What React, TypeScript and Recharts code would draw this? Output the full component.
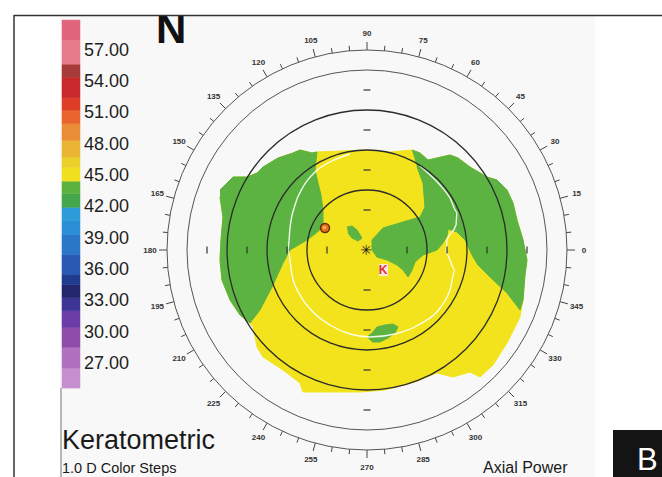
import React from 'react';
import { ScatterChart, Scatter, XAxis, YAxis, ReferenceArea } from 'recharts';

const W = 662;
const H = 477;
// map units: 1 unit = 20px, map centre sits at (367, 250)
const X_DOMAIN: [number, number] = [-18.35, 14.75];
const Y_DOMAIN: [number, number] = [-11.35, 12.5];
const PX = W / (X_DOMAIN[1] - X_DOMAIN[0]);
// legend scale in dioptres
const LEGEND_DOMAIN: [number, number] = [16.09, 61.74];

const GREEN = '#5db342';
const YELLOW = '#f2e31d';
const FONT = '"Liberation Sans", Arial, sans-serif';

const legendTicks = [57, 54, 51, 48, 45, 42, 39, 36, 33, 30, 27];
const legendBands: [number, number, string][] = [
  [24.6, 26.5, '#c58fcf'], [26.5, 28.5, '#b071c0'], [28.5, 30.4, '#8f4cab'], [30.4, 32, '#6c3da6'],
  [32, 33.25, '#3d3496'], [33.25, 34.5, '#23266c'], [34.5, 35.5, '#1f3c8f'], [35.5, 37.4, '#285ab3'],
  [37.4, 39.3, '#2b77c7'], [39.3, 40.6, '#2b8fd6'], [40.6, 41.9, '#2d9cd9'], [41.9, 43.2, '#45a64b'],
  [43.2, 44.4, '#5bb23f'], [44.4, 45.7, '#f1e01f'], [45.7, 46.7, '#ecd02a'], [46.7, 48.3, '#e9b431'],
  [48.3, 49.9, '#e98e36'], [49.9, 51.2, '#e8662e'], [51.2, 52.4, '#e03d29'], [52.4, 54.35, '#c8292b'],
  [54.35, 55.6, '#a83a3b'], [55.6, 57.9, '#e67c89'], [57.9, 59.82, '#e1657d'],
];
const LEG_X1 = -15.25;
const LEG_X2 = -14.35;
const LEG_LABEL_X = -14.15;

const ringRadii = [3, 5, 7, 9, 10];
const markRadii = [2, 4, 6, 8];
const FRAME_R = 10;
const angleLabels = [0, 15, 30, 45, 60, 75, 90, 105, 120, 135, 150, 165, 180, 195, 210, 225, 240, 255, 270, 285, 300, 315, 330, 345];
const angleTicks = Array.from({ length: 72 }, (_, i) => i * 5);

// whole measured footprint (drawn yellow)
const footprint = [
  [-7.35, 3.0], [-6.7, 3.65], [-6.0, 3.65], [-5.5, 3.85], [-5.2, 4.15], [-4.45, 4.6], [-3.7, 4.85], [-3.35, 5.0],
  [-2.75, 4.85], [-2.5, 4.9], [-1.35, 4.95], [0.15, 5.0], [1.15, 4.9], [2.25, 5.0], [2.65, 4.85], [3.05, 4.5],
  [4.15, 4.75], [4.55, 4.6], [5.15, 4.15], [6.0, 3.65], [6.5, 3.5], [7.0, 3.0], [7.3, 2.35], [7.5, 1.5],
  [7.8, 0.5], [8.0, -0.5], [7.9, -1.25], [7.8, -2.5], [7.65, -3.35], [7.0, -4.65], [6.3, -5.75], [5.65, -6.35],
  [5.15, -6.1], [4.3, -6.35], [3.5, -6.15], [3.0, -6.35], [2.4, -6.6], [1.65, -6.8], [0.9, -7.0], [-0.35, -7.1],
  [-1.85, -7.1], [-3.2, -7.1], [-3.35, -6.65], [-4.2, -6.0], [-5.2, -5.35], [-5.5, -4.85], [-5.7, -3.85],
  [-5.85, -3.65], [-6.35, -3.25], [-6.85, -2.5], [-7.25, -1.5], [-7.35, -0.5], [-7.3, 0.5], [-7.2, 1.65], [-7.35, 2.65],
];
const greenLeft = [
  [-7.35, 3.0], [-6.7, 3.65], [-6.0, 3.65], [-5.5, 3.85], [-5.2, 4.15], [-4.45, 4.6], [-3.7, 4.85], [-3.35, 5.0],
  [-2.75, 4.85], [-2.5, 4.9], [-2.6, 4.0], [-2.45, 3.35], [-2.3, 2.75], [-2.2, 2.0], [-2.2, 1.15], [-2.6, 0.8],
  [-3.0, 0.5], [-3.85, 0], [-4.2, -0.65], [-4.7, -1.75], [-5.35, -3.0], [-5.85, -3.65], [-6.35, -3.25],
  [-6.85, -2.5], [-7.25, -1.5], [-7.35, -0.5], [-7.3, 0.5], [-7.2, 1.65], [-7.35, 2.65],
];
const greenRight = [
  [2.25, 5.0], [2.65, 4.85], [3.05, 4.5], [4.15, 4.75], [4.55, 4.6], [5.15, 4.15], [6.0, 3.65], [6.5, 3.5],
  [7.0, 3.0], [7.3, 2.35], [7.5, 1.5], [7.8, 0.5], [8.0, -0.5], [7.9, -1.25], [7.8, -2.5], [7.65, -3.0],
  [7.0, -2.15], [6.15, -1.35], [5.55, -0.75], [5.25, -0.25], [4.9, 0.5], [4.5, 0.9], [4.05, 1.05], [4.0, 0.7],
  [3.8, 0.35], [3.5, 0], [2.8, -0.25], [2.4, -0.6], [2.25, -1.0], [2.05, -1.35], [1.8, -1.0], [1.5, -0.75],
  [1.0, -0.5], [0.5, -0.35], [0.25, 0], [0.25, 0.5], [0.8, 1.1], [1.8, 1.4], [2.65, 1.65], [2.9, 2.15],
  [2.8, 3.35], [2.5, 4.15],
];
const greenIsletTop = [
  [-1.0, 1.15], [-0.75, 1.2], [-0.5, 1.0], [-0.25, 0.6], [-0.45, 0.45], [-0.75, 0.6], [-0.95, 0.85],
];
const greenIsletBottom = [
  [0, -4.35], [0.25, -4.15], [0.5, -3.85], [0.9, -3.75], [1.3, -3.7], [1.55, -3.85], [1.4, -4.15],
  [1.05, -4.4], [0.65, -4.6], [0.25, -4.6],
];
const whiteContour = [
  [-0.85, 4.8], [-1.85, 4.4], [-2.6, 3.9], [-3.2, 3.15], [-3.6, 2.25], [-3.85, 1.1], [-3.95, 0], [-3.75, -1.25],
  [-3.35, -2.25], [-2.7, -3.1], [-1.85, -3.75], [-0.85, -4.2], [0.15, -4.35], [1.4, -4.2], [2.65, -3.7],
  [3.65, -2.9], [4.15, -2.0], [4.4, -1.0], [3.95, -0.15], [4.0, 0.5], [4.45, 1.25], [4.5, 1.9], [4.15, 2.6],
  [3.65, 3.25], [3.15, 3.75], [2.65, 4.2],
];
const pupilCentre = [{ x: -2.1, y: 1.1 }];
const kMark = [{ x: 0.8, y: -1.0 }];
const vertexMark = [{ x: -0.05, y: 0 }];

const pts = (arr: number[][]) => arr.map(([x, y]) => ({ x, y }));
const rad = (a: number) => (a * Math.PI) / 180;

const frameData = angleTicks.map((a) => ({ x: FRAME_R * Math.cos(rad(a)), y: FRAME_R * Math.sin(rad(a)), angle: a }));
const markData = markRadii.flatMap((r) => [
  { x: 0, y: r, dir: 'h' }, { x: 0, y: -r, dir: 'h' }, { x: r, y: 0, dir: 'v' }, { x: -r, y: 0, dir: 'v' },
]);
const legendLabelData = legendTicks.map((v) => ({ x: LEG_LABEL_X, y: v }));

const Nothing = () => <g />;

const Rings = (p: any) => (
  <g>
    {ringRadii.map((r) => (
      <circle key={r} cx={p.cx} cy={p.cy} r={r * PX} fill="none"
        stroke={r <= 7 ? '#2b2b2b' : '#555'} strokeWidth={r <= 7 ? 1.3 : 1} />
    ))}
  </g>
);

const FrameTick = (p: any) => {
  const a = p.payload.angle;
  const major = angleLabels.includes(a);
  const dx = Math.cos(rad(a));
  const dy = -Math.sin(rad(a));
  const len = major ? 8 : 5;
  return (
    <g>
      <line x1={p.cx} y1={p.cy} x2={p.cx + dx * len} y2={p.cy + dy * len} stroke="#444" strokeWidth={1} />
      {major && (
        <text x={p.cx + dx * 17} y={p.cy + dy * 17} textAnchor="middle" dominantBaseline="central"
          fontSize={8} fontWeight="bold" fontFamily={FONT} fill="#333">{a}</text>
      )}
    </g>
  );
};

const AxisMark = (p: any) =>
  p.payload.dir === 'h'
    ? <line x1={p.cx - 3.5} y1={p.cy} x2={p.cx + 3.5} y2={p.cy} stroke="#333" strokeWidth={1.2} />
    : <line x1={p.cx} y1={p.cy - 3.5} x2={p.cx} y2={p.cy + 3.5} stroke="#333" strokeWidth={1.2} />;

const LegendLabel = (p: any) => (
  <text x={p.cx} y={p.cy} dominantBaseline="central" fontSize={18} fontFamily={FONT} fill="#1e1e1e">
    {p.payload.y.toFixed(2)}
  </text>
);

const PupilDot = (p: any) => (
  <g>
    <circle cx={p.cx} cy={p.cy} r={4.5} fill="#e8741c" stroke="#6b2a10" strokeWidth={1.5} />
    <circle cx={p.cx - 0.5} cy={p.cy - 0.5} r={1.6} fill="#f6c060" />
  </g>
);

const KLabel = (p: any) => (
  <g>
    <rect x={p.cx - 4} y={p.cy - 6} width={9} height={12} fill="#fbe8e0" />
    <text x={p.cx} y={p.cy} textAnchor="middle" dominantBaseline="central" fontSize={12}
      fontWeight="bold" fontFamily={FONT} fill="#e0303a">K</text>
  </g>
);

const Vertex = (p: any) => (
  <text x={p.cx} y={p.cy} textAnchor="middle" dominantBaseline="central" fontSize={14}
    fontWeight="bold" fontFamily="DejaVu Sans" fill="#222">✳</text>
);

const polygon = (data: number[][], color: string) => (
  <Scatter data={pts(data)} shape={Nothing} lineType="joint"
    line={{ fill: color, stroke: color, strokeWidth: 1 }} isAnimationActive={false} />
);

export default function App() {
  return (
    <div style={{ position: 'absolute', left: 0, top: 0, width: W, height: H, background: '#fff', overflow: 'hidden' }}>
      <div style={{ position: 'absolute', left: 60, top: 16, width: 535, height: H - 16, background: '#f8f8f8' }} />
      <div style={{ position: 'absolute', left: 0, top: 0 }}>
        <ScatterChart width={W} height={H} margin={{ top: 0, right: 0, bottom: 0, left: 0 }}>
          <XAxis type="number" dataKey="x" domain={X_DOMAIN} hide allowDataOverflow />
          <YAxis type="number" dataKey="y" domain={Y_DOMAIN} hide allowDataOverflow />
          <YAxis yAxisId="legend" type="number" dataKey="y" domain={LEGEND_DOMAIN} hide allowDataOverflow />
          {legendBands.map(([lo, hi, c]) => (
            <ReferenceArea key={lo} yAxisId="legend" x1={LEG_X1} x2={LEG_X2} y1={lo} y2={hi}
              fill={c} fillOpacity={1} stroke={c} strokeWidth={0.5} ifOverflow="visible" />
          ))}
          <Scatter yAxisId="legend" data={legendLabelData} shape={LegendLabel} isAnimationActive={false} />
          {polygon(footprint, YELLOW)}
          {polygon(greenLeft, GREEN)}
          {polygon(greenRight, GREEN)}
          {polygon(greenIsletTop, GREEN)}
          {polygon(greenIsletBottom, GREEN)}
          <Scatter data={pts(whiteContour)} shape={Nothing} lineType="joint" lineJointType="monotone"
            line={{ stroke: '#ffffff', strokeWidth: 1.4, fill: 'none', strokeOpacity: 0.9 }} isAnimationActive={false} />
          <Scatter data={[{ x: 0, y: 0 }]} shape={Rings} isAnimationActive={false} />
          <Scatter data={frameData} shape={FrameTick} isAnimationActive={false} />
          <Scatter data={markData} shape={AxisMark} isAnimationActive={false} />
          <Scatter data={pupilCentre} shape={PupilDot} isAnimationActive={false} />
          <Scatter data={kMark} shape={KLabel} isAnimationActive={false} />
          <Scatter data={vertexMark} shape={Vertex} isAnimationActive={false} />
        </ScatterChart>
      </div>
      <svg width={W} height={H} style={{ position: 'absolute', left: 0, top: 0, pointerEvents: 'none' }}>
        <text x={156} y={43} fontSize={42} fontWeight="bold" fontFamily={FONT} fill="#111">N</text>
        <rect x={0} y={0} width={W} height={15} fill="#fff" />
        <line x1={14} y1={15.5} x2={W} y2={15.5} stroke="#333" strokeWidth={1.5} />
        <line x1={14} y1={15} x2={14} y2={H} stroke="#333" strokeWidth={1.5} />
        <line x1={61} y1={388} x2={61} y2={H} stroke="#777" strokeWidth={1} />
        <text x={62} y={449} fontSize={27} fontFamily={FONT} fill="#1a1a1a">Keratometric</text>
        <text x={62} y={473} fontSize={14.5} fontFamily={FONT} fill="#1a1a1a">1.0 D Color Steps</text>
        <text x={483} y={473} fontSize={16} fontFamily={FONT} fill="#1a1a1a">Axial Power</text>
        <rect x={613} y={430} width={49} height={47} fill="#141414" />
        <text x={637} y={470} fontSize={31} fontFamily={FONT} fill="#fff">B</text>
      </svg>
    </div>
  );
}
